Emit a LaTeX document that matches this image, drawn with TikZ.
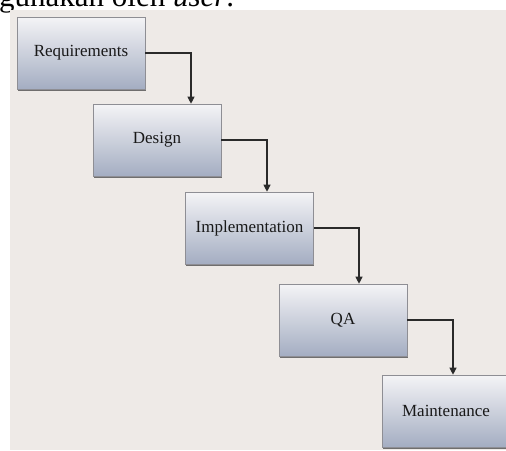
\documentclass[tikz,border=0pt]{standalone}
\usepackage{fontspec}
\setmainfont{Liberation Serif}
\usetikzlibrary{arrows.meta,shadows}
\definecolor{pagegray}{HTML}{EEEAE7}
\definecolor{boxtop}{HTML}{F4F4F6}
\definecolor{boxbottom}{HTML}{A4ADC2}
\definecolor{boxedge}{HTML}{8E8E94}
\definecolor{linkcolor}{HTML}{2A2A2A}

\begin{document}
\begin{tikzpicture}[
  x=1pt, y=-1pt,
  phase/.style={draw=boxedge, line width=0.6pt,
               top color=boxtop, bottom color=boxbottom,
               minimum width=128pt, minimum height=72pt, inner sep=0pt,
               font=\fontsize{17}{20}\selectfont, text=black!90,
               drop shadow={shadow xshift=0.8pt, shadow yshift=-1.8pt,
                            fill=black!65, opacity=0.85}},
  link/.style={-{Triangle[length=7pt, width=7pt]}, line width=1.1pt, linkcolor},
]
  \clip (0,0) rectangle (506,450);
  \fill[white] (0,0) rectangle (506,450);
  % cut-off line of text above the figure
  \node[anchor=base west, inner sep=0pt, font=\fontsize{31}{36}\selectfont]
    (caption) at (-1, 6.5) {gunakan oleh \textit{user}.};
  \fill[pagegray] (10,10) rectangle (506,450);

  \node[phase] (req)    at (81, 53)    {Requirements};
  \node[phase] (design) at (157, 140)  {Design};
  \node[phase] (impl)   at (249.5, 228) {Implementation};
  \node[phase] (qa)     at (343, 320)  {QA};
  \node[phase] (maint)  at (446, 411)  {Maintenance};

  \draw[link] (req.east)    -| ([xshift=34pt]design.north);
  \draw[link] (design.east) -| ([xshift=17.5pt]impl.north);
  \draw[link] (impl.east)   -| ([xshift=16pt]qa.north);
  \draw[link] (qa.east)     -| ([xshift=7pt]maint.north);
\end{tikzpicture}
\end{document}
